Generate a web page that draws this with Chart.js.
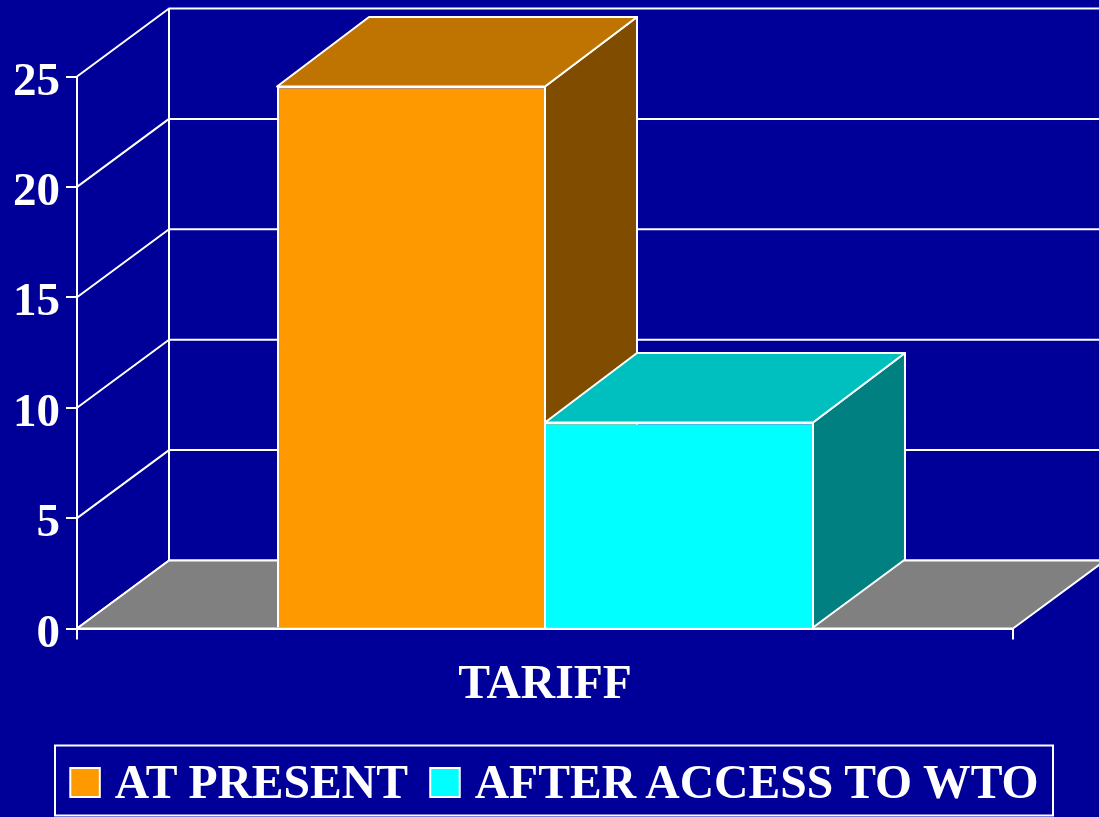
<!DOCTYPE html>
<html>
<head>
<meta charset="utf-8">
<title>Tariff</title>
<script src="https://cdn.jsdelivr.net/npm/chart.js@4"></script>
<style>
  html, body { margin: 0; padding: 0; background: #000099; overflow: hidden; }
  canvas { display: block; }
</style>
</head>
<body>
<canvas id="tariff-chart" width="1099" height="817"></canvas>
<script>
const categories = ["TARIFF"];
const seriesNames = ["AT PRESENT", "AFTER ACCESS TO WTO"];
const atPresent = [24.55];
const afterAccess = [9.33];
const yTicks = [0, 5, 10, 15, 20, 25];

const frontColors = ["#FF9900", "#00FFFF"];
const topColors = ["#BF7300", "#00BFBF"];
const sideColors = ["#804D00", "#008080"];
// the two fronts share an edge, so keep that line thin
const barBorders = [
  { top: 2, left: 2, right: 1, bottom: 0 },
  { top: 2, left: 1, right: 1, bottom: 0 },
];

const WHITE = "#FFFFFF";
const LEGEND_FONT = 47.6;
const LINE = 2;
// how far the back wall sits from the front plane
const DEPTH_X = 92;
const DEPTH_Y = -68;
const BAR_TOP_DEPTH_Y = -69.5;
const BOX_W = 40;

function poly(ctx, pts, fill) {
  ctx.beginPath();
  pts.forEach((p, i) => (i ? ctx.lineTo(p[0], p[1]) : ctx.moveTo(p[0], p[1])));
  ctx.closePath();
  if (fill) {
    ctx.fillStyle = fill;
    ctx.fill();
  }
  ctx.stroke();
}

const box3d = {
  id: "box3d",
  beforeUpdate(chart) {
    chart.ctx.fontKerning = "normal";
  },
  afterLayout(chart) {
    // legend sits in its own frame, not where the layout would centre it
    const legend = chart.legend;
    legend.left = 48;
    legend.right = chart.width;
    legend.top = 758.7;
  },
  afterUpdate(chart) {
    // digits sit a little lower than the tick marks
    chart.scales.y.getLabelItems(chart.chartArea).forEach((item) => {
      item.options.translation[1] += 6;
    });
  },
  beforeDatasetsDraw(chart) {
    const { ctx, chartArea: area, scales } = chart;
    const y = scales.y;
    ctx.save();
    ctx.strokeStyle = WHITE;
    ctx.lineWidth = LINE;
    ctx.lineJoin = "round";

    // wall lines
    y.ticks.forEach((tick) => {
      const py = y.getPixelForValue(tick.value);
      ctx.beginPath();
      ctx.moveTo(area.left, py);
      ctx.lineTo(area.left + DEPTH_X, py + DEPTH_Y);
      ctx.lineTo(area.right + DEPTH_X, py + DEPTH_Y);
      ctx.stroke();
    });
    ctx.beginPath();
    ctx.moveTo(area.left + DEPTH_X, area.top + DEPTH_Y);
    ctx.lineTo(area.left + DEPTH_X, area.bottom + DEPTH_Y);
    ctx.stroke();

    // floor
    poly(ctx, [
      [area.left, area.bottom],
      [area.left + DEPTH_X, area.bottom + DEPTH_Y],
      [area.right + DEPTH_X, area.bottom + DEPTH_Y],
      [area.right, area.bottom],
    ], "#808080");

    // side and top of each bar, the fronts come from the library
    chart.data.datasets.forEach((ds, i) => {
      chart.getDatasetMeta(i).data.forEach((bar) => {
        const l = bar.x - bar.width / 2;
        const r = bar.x + bar.width / 2;
        poly(ctx, [
          [r, bar.y],
          [r + DEPTH_X, bar.y + BAR_TOP_DEPTH_Y],
          [r + DEPTH_X, bar.base + DEPTH_Y],
          [r, bar.base],
        ], sideColors[i]);
        poly(ctx, [
          [l, bar.y],
          [l + DEPTH_X, bar.y + BAR_TOP_DEPTH_Y],
          [r + DEPTH_X, bar.y + BAR_TOP_DEPTH_Y],
          [r, bar.y],
        ], topColors[i]);
      });
    });
    ctx.restore();
  },
  afterDraw(chart) {
    const { ctx, legend } = chart;
    ctx.save();
    ctx.strokeStyle = WHITE;
    ctx.lineWidth = LINE;
    ctx.strokeRect(55, 745.5, 998, 70);
    legend.legendHitBoxes.forEach((hit, i) => {
      const right = hit.left + BOX_W + LEGEND_FONT / 2 - 15;
      ctx.fillStyle = frontColors[i];
      ctx.fillRect(right - 29.5, 768, 29.5, 29);
      ctx.strokeRect(right - 29.5, 768, 29.5, 29);
    });
    ctx.restore();
  },
};

const datasets = [atPresent, afterAccess].map((values, i) => ({
  label: seriesNames[i],
  data: values,
  backgroundColor: frontColors[i],
  hoverBackgroundColor: frontColors[i],
  borderColor: WHITE,
  borderWidth: barBorders[i],
  categoryPercentage: 0.5726,
  barPercentage: 1,
}));

const tickFont = { family: '"Liberation Serif"', size: 47, weight: "bold" };
const legendFont = { family: '"Liberation Serif"', size: LEGEND_FONT, weight: "bold" };

Chart.defaults.animation = false;

new Chart(document.getElementById("tariff-chart").getContext("2d"), {
  type: "bar",
  data: { labels: categories, datasets: datasets },
  plugins: [box3d],
  options: {
    responsive: false,
    layout: { padding: { top: 76.5, right: 86, left: 0, bottom: 0 } },
    plugins: {
      tooltip: { enabled: false },
      legend: {
        position: "bottom",
        align: "start",
        labels: {
          color: WHITE,
          font: legendFont,
          boxWidth: BOX_W,
          boxHeight: 30,
          padding: 3,
          generateLabels(chart) {
            return Chart.defaults.plugins.legend.labels.generateLabels(chart).map((item) => ({
              ...item,
              fillStyle: "transparent",
              strokeStyle: "transparent",
              lineWidth: 0,
            }));
          },
        },
      },
    },
    scales: {
      x: {
        afterFit(scale) {
          scale.height = 188.5 - scale.chart.legend.height;
        },
        grid: { drawOnChartArea: false, color: WHITE, lineWidth: LINE, tickLength: 11 },
        border: { color: WHITE, width: LINE },
        ticks: { color: WHITE, font: legendFont, padding: 18, maxRotation: 0 },
      },
      y: {
        min: 0,
        max: 25,
        afterFit(scale) {
          scale.width = 77;
        },
        afterBuildTicks(scale) {
          scale.ticks = yTicks.map((value) => ({ value }));
        },
        grid: { drawOnChartArea: false, color: WHITE, lineWidth: LINE, tickLength: 11 },
        border: { color: WHITE, width: LINE },
        ticks: { color: WHITE, font: tickFont, padding: 6 },
      },
    },
  },
});
</script>
</body>
</html>
